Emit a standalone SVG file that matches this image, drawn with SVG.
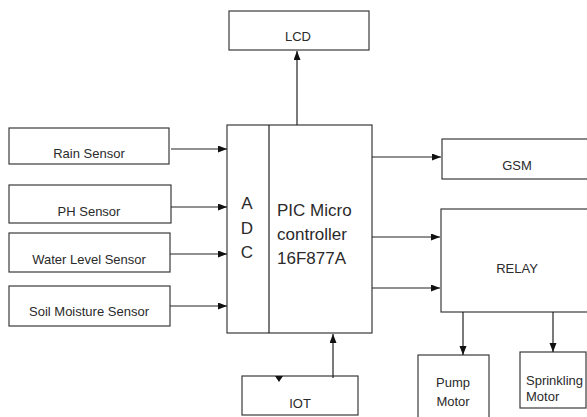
<svg xmlns="http://www.w3.org/2000/svg" width="587" height="417" viewBox="0 0 587 417">
<style>
.box{fill:#fff;stroke:#3a3a3a;stroke-width:1.2}
.t{font-family:"Liberation Sans",Arial,sans-serif;font-size:13px;fill:#2a2a2a;text-anchor:middle}
.ts{text-anchor:start}
.big{font-family:"Liberation Sans",Arial,sans-serif;font-size:17px;fill:#2a2a2a}
.ln{stroke:#222;stroke-width:1.2;fill:none}
</style>
<defs>
<marker id="ah" markerWidth="10" markerHeight="8" refX="9" refY="3.5" orient="auto" markerUnits="userSpaceOnUse">
<path d="M0,0 L9,3.5 L0,7 z" fill="#111"/>
</marker>
</defs>
<rect width="587" height="417" fill="#fff"/>
<g id="lcd"><rect class="box" x="229" y="11" width="140" height="39"/><text class="t" x="298" y="41">LCD</text></g>
<g id="rain"><rect class="box" x="9" y="128" width="160" height="36"/><text class="t" x="89" y="158">Rain Sensor</text></g>
<g id="ph"><rect class="box" x="9" y="185" width="162" height="38"/><text class="t" x="89" y="216">PH Sensor</text></g>
<g id="water"><rect class="box" x="9" y="233" width="161" height="39"/><text class="t" x="89" y="264">Water Level Sensor</text></g>
<g id="soil"><rect class="box" x="9" y="286" width="161" height="40"/><text class="t" x="89" y="316">Soil Moisture Sensor</text></g>
<g id="mcu">
<rect class="box" x="227" y="125" width="145" height="208"/>
<line class="ln" x1="269" y1="125" x2="269" y2="333"/>
<text class="big" x="247" y="209" text-anchor="middle">A</text>
<text class="big" x="247" y="234" text-anchor="middle">D</text>
<text class="big" x="247" y="258" text-anchor="middle">C</text>
<text class="big" x="277" y="216">PIC Micro</text>
<text class="big" x="277" y="240">controller</text>
<text class="big" x="277" y="264">16F877A</text>
</g>
<g id="gsm"><rect class="box" x="442" y="139" width="150" height="40"/><text class="t" x="517" y="170">GSM</text></g>
<g id="relay"><rect class="box" x="441" y="209" width="151" height="103"/><text class="t" x="517" y="273">RELAY</text></g>
<g id="iot"><rect class="box" x="242" y="376" width="116" height="39"/><text class="t" x="300" y="408">IOT</text></g>
<g id="pump"><rect class="box" x="418" y="355" width="71" height="70"/><text class="t" x="453" y="387">Pump</text><text class="t" x="453" y="406">Motor</text></g>
<g id="sprinkling"><rect class="box" x="520" y="352" width="66" height="56"/><text class="t ts" x="526" y="385">Sprinkling</text><text class="t ts" x="526" y="401">Motor</text></g>
<g id="connectors">
<line class="ln" x1="171" y1="149" x2="227" y2="149" marker-end="url(#ah)"/>
<line class="ln" x1="171" y1="207" x2="227" y2="207" marker-end="url(#ah)"/>
<line class="ln" x1="170" y1="254" x2="227" y2="254" marker-end="url(#ah)"/>
<line class="ln" x1="170" y1="306" x2="227" y2="306" marker-end="url(#ah)"/>
<line class="ln" x1="297" y1="125" x2="297" y2="51" stroke-width="2.2" marker-end="url(#ah)"/>
<line class="ln" x1="372" y1="157" x2="441" y2="157" marker-end="url(#ah)"/>
<line class="ln" x1="372" y1="237" x2="440" y2="237" marker-end="url(#ah)"/>
<line class="ln" x1="372" y1="288" x2="440" y2="288" marker-end="url(#ah)"/>
<line class="ln" x1="333" y1="378" x2="333" y2="334" marker-end="url(#ah)"/>
<line class="ln" x1="463" y1="312" x2="463" y2="355" marker-end="url(#ah)"/>
<line class="ln" x1="553" y1="312" x2="553" y2="352" marker-end="url(#ah)"/>
<polygon points="275,376 283,376 279,382" fill="#111"/>
</g>
</svg>
